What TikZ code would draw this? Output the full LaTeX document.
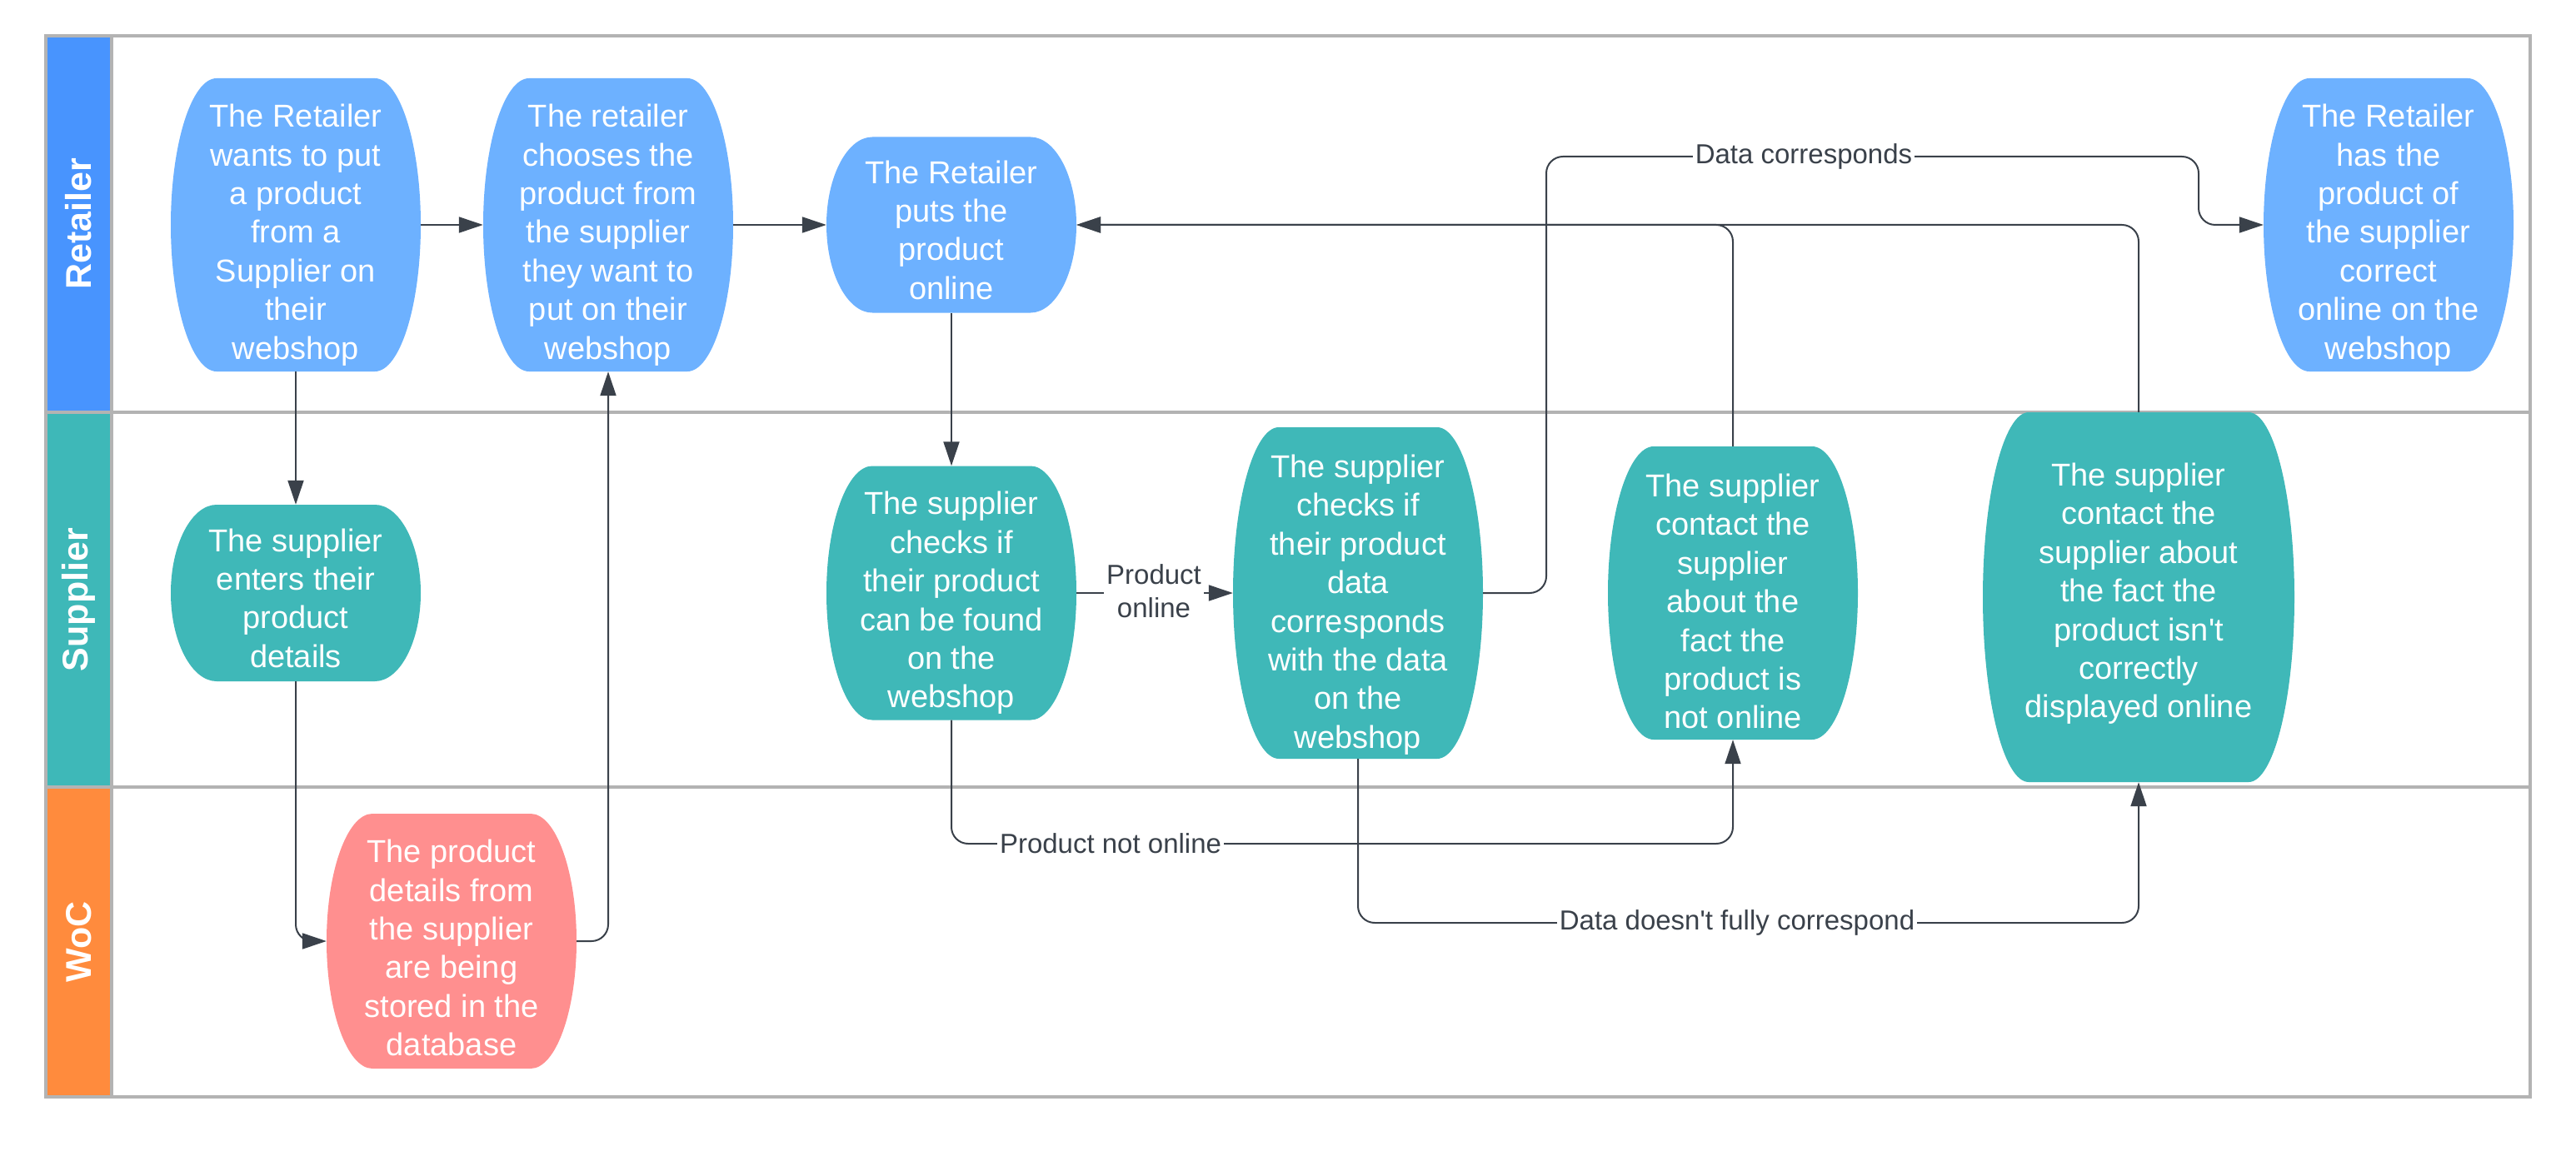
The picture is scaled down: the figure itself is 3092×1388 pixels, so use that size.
\documentclass[tikz,border=0pt]{standalone}
\usepackage{fontspec}
\setmainfont{Liberation Sans}[Ligatures=TeXOff]
\usetikzlibrary{arrows.meta,calc}
\definecolor{lanegray}{HTML}{B3B3B3}
\definecolor{hdrblue}{HTML}{4894FE}
\definecolor{hdrteal}{HTML}{3EB8B8}
\definecolor{hdrorange}{HTML}{FF8B3D}
\definecolor{retfill}{HTML}{6DB1FF}
\definecolor{supfill}{HTML}{3FB8B8}
\definecolor{wocfill}{HTML}{FF8F8F}
\definecolor{linecol}{HTML}{3A414A}
\newcommand{\mynodefont}{\fontsize{38}{46.4}\selectfont}
\newcommand{\mylblfont}{\fontsize{33}{40}\selectfont}
\newcommand{\myhdrfont}{\fontsize{43}{50}\selectfont\bfseries}
\newcommand{\tup}[1]{\rule{0pt}{#1pt}}
\newcommand{\tdp}[1]{\rule[-#1pt]{0pt}{0pt}}
\newcommand{\ppt}[2]{($(path picture bounding box.center)+(#1pt,#2pt)$)}
\tikzset{
  barrel/.style n args={3}{rectangle, inner sep=0pt, minimum width=#1pt, minimum height=#2pt,
    text=white, align=center, font=\mynodefont,
    path picture={
      \pgfmathsetmacro{\brW}{#1/2}
      \pgfmathsetmacro{\brH}{#2/2}
      \pgfmathsetmacro{\brX}{#1/2-55}
      \pgfmathsetmacro{\brA}{#1/2-25}
      \pgfmathsetmacro{\brB}{0.55*#2/2}
      \fill[#3]
        \ppt{-\brX}{\brH} -- \ppt{\brX}{\brH}
        .. controls \ppt{\brA}{\brH} and \ppt{\brW}{\brB} .. \ppt{\brW}{0}
        .. controls \ppt{\brW}{-\brB} and \ppt{\brA}{-\brH} .. \ppt{\brX}{-\brH}
        -- \ppt{-\brX}{-\brH}
        .. controls \ppt{-\brA}{-\brH} and \ppt{-\brW}{-\brB} .. \ppt{-\brW}{0}
        .. controls \ppt{-\brW}{\brB} and \ppt{-\brA}{\brH} .. cycle;}},
  conn/.style={draw=linecol, line width=2pt, rounded corners=20pt,
    -{Triangle[length=29pt,width=19pt]}},
  lbl/.style={fill=white, text=linecol, font=\mylblfont, inner sep=3pt, align=center},
  hdr/.style={rotate=90, text=white, font=\myhdrfont},
  lane/.style={draw=lanegray, line width=3.5pt}
}
\begin{document}
\begin{tikzpicture}[x=1pt,y=-1pt]
\useasboundingbox (0,0) rectangle (3092,1388);
\fill[white] (0,0) rectangle (3092,1388);
% lane headers
\fill[hdrblue] (55,43) rectangle (134,495);
\fill[hdrteal] (55,495) rectangle (134,945);
\fill[hdrorange] (55,945) rectangle (134,1317);
\draw[lane] (55,43) rectangle (3037,1317);
\draw[lane] (55,495) -- (3037,495);
\draw[lane] (55,945) -- (3037,945);
\draw[lane] (134,43) -- (134,1317);
\node[hdr] (hR) at (94.5,269) {Retailer};
\node[hdr] (hS) at (94.5,720) {Supplier};
\node[hdr] (hW) at (94.5,1131) {WoC};
% nodes
\node[barrel={300}{352}{retfill}] (r1) at (355,270) {\tup{51.7}The Retailer\\wants to put\\a product\\from a\\Supplier on\\their\\webshop};
\node[barrel={300}{352}{retfill}] (r2) at (730,270) {\tup{51.7}The retailer\\chooses the\\product from\\the supplier\\they want to\\put on their\\webshop};
\node[barrel={300}{211}{retfill}] (r3) at (1142,270) {\tup{39.7}The Retailer\\puts the\\product\\online};
\node[barrel={300}{352}{retfill}] (r4) at (2867,270) {\tup{51.7}The Retailer\\has the\\product of\\the supplier\\correct\\online on the\\webshop};
\node[barrel={300}{212}{supfill}] (s1) at (355,712) {\tup{39.7}The supplier\\enters their\\product\\details};
\node[barrel={300}{305}{supfill}] (s2) at (1142,712) {\tup{51.7}The supplier\\checks if\\their product\\can be found\\on the\\webshop};
\node[barrel={300}{398}{supfill}] (s3) at (1630,712) {\tup{55.7}The supplier\\checks if\\their product\\data\\corresponds\\with the data\\on the\\webshop};
\node[barrel={300}{352}{supfill}] (s4) at (2080,712) {\tup{47.7}The supplier\\contact the\\supplier\\about the\\fact the\\product is\\not online};
\node[barrel={374}{444}{supfill}] (s5) at (2567,717) {The supplier\\contact the\\supplier about\\the fact the\\product isn't\\correctly\\displayed online\tdp{16}};
\node[barrel={300}{306}{wocfill}] (w1) at (542,1130) {\tup{43.7}The product\\details from\\the supplier\\are being\\stored in the\\database};
% bend coordinates
\coordinate (dcA) at (1856,188);
\coordinate (dcB) at (2639,188);
\coordinate (pnoB) at (2080,1013);
\coordinate (dnB) at (2567,1108);
% connectors
\draw[conn] (r1.east) -- (r2.west);
\draw[conn] (r2.east) -- (r3.west);
\draw[conn] (r1.south) -- (s1.north);
\draw[conn] (s1.south) |- (w1.west);
\draw[conn] (w1.east) -| (r2.south);
\draw[conn] (r3.south) -- (s2.north);
\draw[conn] (s2.east) -- (s3.west);
\draw[conn] (s3.east) -| (dcA) -- (dcB) |- (r4.west);
\draw[conn] (s2.south) |- (pnoB) -- (s4.south);
\draw[conn] (s3.south) |- (dnB) -- (s5.south);
\draw[conn] (s4.north) |- (r3.east);
\draw[conn] (s5.north) |- (r3.east);
% labels
\node[lbl] (lPO) at (1385,710) {Product\\online};
\node[lbl] (lDC) at (2165,188) {Data corresponds};
\node[lbl] (lPNO) at (1333,1013) {Product not online};
\node[lbl] (lDN) at (2085,1108) {Data doesn't fully correspond};
\end{tikzpicture}
\end{document}
